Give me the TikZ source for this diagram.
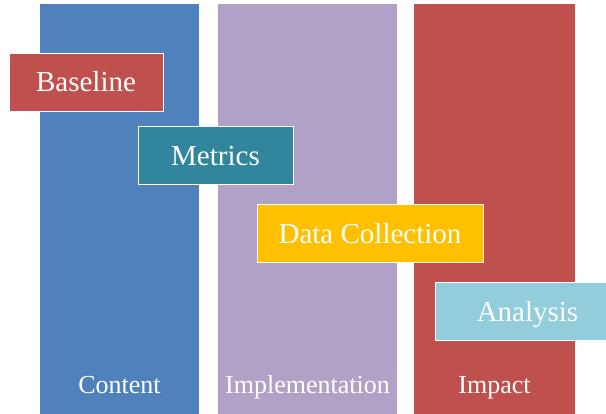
\documentclass[tikz,border=0pt]{standalone}
\usepackage{fontspec}
\setmainfont{Liberation Serif}
\definecolor{cblue}{HTML}{4F81BD}
\definecolor{cpurple}{HTML}{B2A1C7}
\definecolor{cred}{HTML}{C0504D}
\definecolor{cteal}{HTML}{31859C}
\definecolor{cgold}{HTML}{FFC000}
\definecolor{clight}{HTML}{92CDDC}
\tikzset{
  column/.style={rectangle, inner sep=0pt, outer sep=0pt, draw=none},
  collabel/.style={text=white, inner sep=0pt, anchor=base, font=\fontsize{26}{30}\selectfont},
  stepbox/.style={rectangle, draw=white, line width=1pt, inner sep=0pt, text=white,
    text height=19.5pt, text depth=0pt, font=\fontsize{29}{34}\selectfont, minimum height=58pt},
}
\begin{document}
\begin{tikzpicture}[x=1pt, y=-1pt]
\useasboundingbox (0,0) rectangle (606,413);
\clip (0,0) rectangle (606,413);
% columns
\node[column, fill=cblue, minimum width=159pt, minimum height=420pt, anchor=north west] (colA) at (40,4) {};
\node[column, fill=cpurple, minimum width=179pt, minimum height=420pt, anchor=north west] (colB) at (218,4) {};
\node[column, fill=cred, minimum width=161pt, minimum height=420pt, anchor=north west] (colC) at (414,4) {};
\node[collabel] (labA) at (119.5,393) {Content};
\node[collabel] (labB) at (307.5,393) {Implementation};
\node[collabel] (labC) at (494.5,393) {Impact};
% step boxes
\node[stepbox, fill=cred, minimum width=154pt] (base) at (86,82) {Baseline};
\node[stepbox, fill=cteal, minimum width=155pt] (metr) at (215.5,155.5) {Metrics};
\node[stepbox, fill=cgold, minimum width=226pt] (data) at (370,233.5) {Data Collection};
\node[stepbox, fill=clight, minimum width=185pt] (anal) at (527.5,311.5) {Analysis};
\end{tikzpicture}
\end{document}
